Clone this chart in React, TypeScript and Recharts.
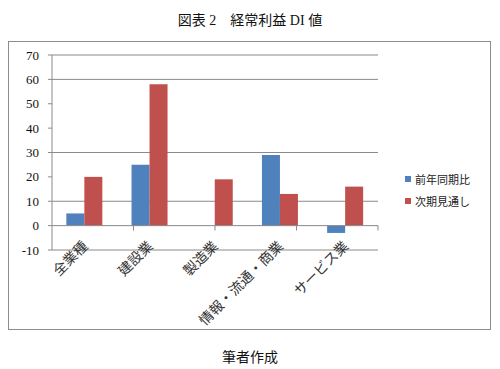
import React from 'react';
import { BarChart, Bar, XAxis, YAxis, CartesianGrid, Legend, ReferenceLine } from 'recharts';

const categories = ['全業種', '建設業', '製造業', '情報・流通・商業', 'サービス業'];
const yoyValues = [5, 25, null, 29, -3];
const outlookValues = [20, 58, 19, 13, 16];
const seriesNames = ['前年同期比', '次期見通し'];
const yTicks = [-10, 0, 10, 20, 30, 40, 50, 60, 70];
const gridLines = [70, 60, 30, 10, -10];

const data = categories.map((name, i) => ({ name, yoy: yoyValues[i], outlook: outlookValues[i] }));
const boundaries = categories.map((_, i) => i + 1);

const BLUE = '#4F81BD';
const RED = '#C0504D';
const GRID = '#8a8a8a';
const JP = '"Noto Sans CJK JP", sans-serif';
const SERIF = '"Liberation Serif", "Noto Sans CJK JP", serif';

function CategoryTick(props: any) {
  const { x, y, payload } = props;
  const ax = x + 4;
  const ay = y - 3;
  return (
    <text x={ax} y={ay} transform={`rotate(-45 ${ax} ${ay})`} textAnchor="end" fontSize={14} fill="#333" fontFamily={JP}>
      {payload.value}
    </text>
  );
}

function LegendBox(props: any) {
  const items = props.payload || [];
  return (
    <div style={{ fontFamily: JP, fontSize: 11, color: '#222' }}>
      {items.map((it: any) => (
        <div key={it.value} style={{ height: 22, lineHeight: '22px', whiteSpace: 'nowrap' }}>
          <span style={{ display: 'inline-block', width: 6, height: 6, background: it.color, marginRight: 4, verticalAlign: 'middle' }} />
          <span style={{ verticalAlign: 'middle' }}>{it.value}</span>
        </div>
      ))}
    </div>
  );
}

export default function App() {
  return (
    <div style={{ position: 'absolute', left: 0, top: 0, width: 500, height: 369, background: '#fff' }}>
      <div style={{ position: 'absolute', top: 9, left: 0, width: 500, textAlign: 'center', fontFamily: SERIF, fontSize: 14, color: '#111' }}>
        図表 2　経常利益 DI 値
      </div>
      <div style={{ position: 'absolute', left: 8, top: 41, width: 481, height: 287, border: '1px solid #8c8c8c' }}>
        <BarChart
          width={481}
          height={287}
          data={data}
          margin={{ top: 13, right: 112, left: 0, bottom: 0 }}
          barCategoryGap="22%"
          barGap={0}
        >
          <CartesianGrid horizontalValues={gridLines} vertical={false} stroke={GRID} />
          <YAxis
            domain={[-10, 70]}
            ticks={yTicks}
            width={43}
            tickSize={4}
            tickMargin={9}
            axisLine={{ stroke: GRID }}
            tickLine={{ stroke: GRID }}
            tick={{ fill: '#111', fontSize: 13, fontFamily: SERIF }}
            interval={0}
          />
          <XAxis
            dataKey="name"
            height={79}
            tickSize={0}
            tickMargin={0}
            axisLine={false}
            tickLine={false}
            interval={0}
            tick={<CategoryTick />}
          />
          <XAxis xAxisId="b" type="number" domain={[0, categories.length]} hide />
          <Legend
            layout="vertical"
            align="center"
            verticalAlign="middle"
            wrapperStyle={{ left: 396, top: 124, width: 'auto' }}
            content={<LegendBox />}
          />
          <Bar dataKey="yoy" name={seriesNames[0]} fill={BLUE} isAnimationActive={false} />
          <Bar dataKey="outlook" name={seriesNames[1]} fill={RED} isAnimationActive={false} />
          <ReferenceLine y={0} stroke={GRID} />
          {boundaries.map((b) => (
            <ReferenceLine key={b} xAxisId="b" segment={[{ x: b, y: 0 }, { x: b, y: -2 }]} stroke={GRID} />
          ))}
        </BarChart>
      </div>
      <div style={{ position: 'absolute', top: 346, left: 0, width: 500, textAlign: 'center', fontFamily: SERIF, fontSize: 14, color: '#111' }}>
        筆者作成
      </div>
    </div>
  );
}
